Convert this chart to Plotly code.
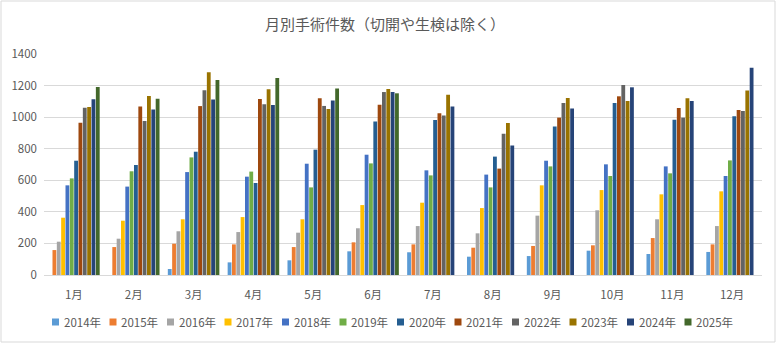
import plotly.graph_objects as go

months = ["1月", "2月", "3月", "4月", "5月", "6月", "7月", "8月", "9月", "10月", "11月", "12月"]
years = ["2014年", "2015年", "2016年", "2017年", "2018年", "2019年",
         "2020年", "2021年", "2022年", "2023年", "2024年", "2025年"]
colors = ["#5B9BD5", "#ED7D31", "#A5A5A5", "#FFC000", "#4472C4", "#70AD47",
          "#255E91", "#9E480E", "#636363", "#997300", "#264478", "#43682B"]

v2014 = [None, None, 38, 80, 93, 150, 144, 116, 120, 154, 133, 146]
v2015 = [158, 177, 198, 194, 177, 207, 194, 173, 184, 188, 234, 194]
v2016 = [211, 230, 277, 272, 268, 296, 310, 264, 376, 410, 353, 310]
v2017 = [363, 344, 353, 367, 353, 443, 458, 424, 568, 538, 511, 530]
v2018 = [568, 560, 652, 623, 705, 762, 663, 636, 724, 701, 688, 627]
v2019 = [612, 657, 745, 655, 555, 707, 631, 555, 688, 627, 644, 726]
v2020 = [724, 697, 781, 583, 794, 973, 982, 750, 940, 1090, 984, 1005]
v2021 = [965, 1068, 1070, 1115, 1119, 1079, 1024, 674, 997, 1132, 1058, 1045]
v2022 = [1060, 975, 1170, 1081, 1071, 1159, 1011, 895, 1090, 1204, 997, 1039]
v2023 = [1064, 1134, 1284, 1176, 1052, 1178, 1142, 963, 1121, 1102, 1119, 1168]
v2024 = [1113, 1049, 1111, 1077, 1106, 1159, 1068, 821, 1054, 1189, 1102, 1313]
v2025 = [1191, 1117, 1235, 1248, 1182, 1151, None, None, None, None, None, None]

series = [v2014, v2015, v2016, v2017, v2018, v2019,
          v2020, v2021, v2022, v2023, v2024, v2025]

y_ticks = [0, 200, 400, 600, 800, 1000, 1200, 1400]

W, H = 777, 344
ML, MR, MT, MB = 44, 15, 54, 69
PW, PH = W - ML - MR, H - MT - MB

GRAY = "#595959"
FONT = "Noto Sans CJK JP"

fig = go.Figure()
for name, vals, col in zip(years, series, colors):
    fig.add_trace(go.Bar(x=months, y=vals, name=name, marker_color=col,
                         marker_line_width=0, showlegend=False))


def px2x(px):
    return (px - ML) / PW


def px2y(py):
    return (H - MB - py) / PH


shapes = []
annotations = []
# legend (manual, single row like the original)
leg_x0, leg_step, leg_y = 52, 57.5, 322
for i, (name, col) in enumerate(zip(years, colors)):
    sx = leg_x0 + i * leg_step
    shapes.append(dict(type="rect", xref="paper", yref="paper",
                       x0=px2x(sx), x1=px2x(sx + 7), y0=px2y(leg_y + 3.5), y1=px2y(leg_y - 3.5),
                       fillcolor=col, line=dict(width=0)))
    annotations.append(dict(text=name, xref="paper", yref="paper",
                            x=px2x(sx + 9.5), y=px2y(leg_y), xanchor="left", yanchor="middle",
                            showarrow=False, font=dict(size=11.5, color=GRAY, family=FONT)))

# chart border
shapes.append(dict(type="rect", xref="paper", yref="paper",
                   x0=px2x(1), x1=px2x(W - 2), y0=px2y(H - 2), y1=px2y(1),
                   line=dict(color="#D9D9D9", width=1), fillcolor="rgba(0,0,0,0)", layer="below"))

fig.update_layout(
    width=W, height=H,
    margin=dict(l=ML, r=MR, t=MT, b=MB),
    paper_bgcolor="white", plot_bgcolor="white",
    barmode="group", bargap=0.13, bargroupgap=0.12,
    title=dict(text="月別手術件数（切開や生検は除く）", x=385 / W, xanchor="center",
               y=1 - 25 / H, yanchor="middle", yref="container",
               font=dict(size=15, color=GRAY, family=FONT)),
    font=dict(family=FONT, color=GRAY, size=11),
    shapes=shapes, annotations=annotations,
    xaxis=dict(type="category", showgrid=False, showline=False, ticks="",
               tickfont=dict(size=11.5, color=GRAY, family=FONT), ticklabelstandoff=11),
    yaxis=dict(range=[0, 1400], tickvals=y_ticks, showgrid=True, gridcolor="#D9D9D9",
               gridwidth=1, zeroline=True, zerolinecolor="#D9D9D9", zerolinewidth=1,
               showline=False, ticks="", tickfont=dict(size=11.5, color=GRAY, family=FONT),
               ticklabelstandoff=6),
)

fig.write_html("out.html")
